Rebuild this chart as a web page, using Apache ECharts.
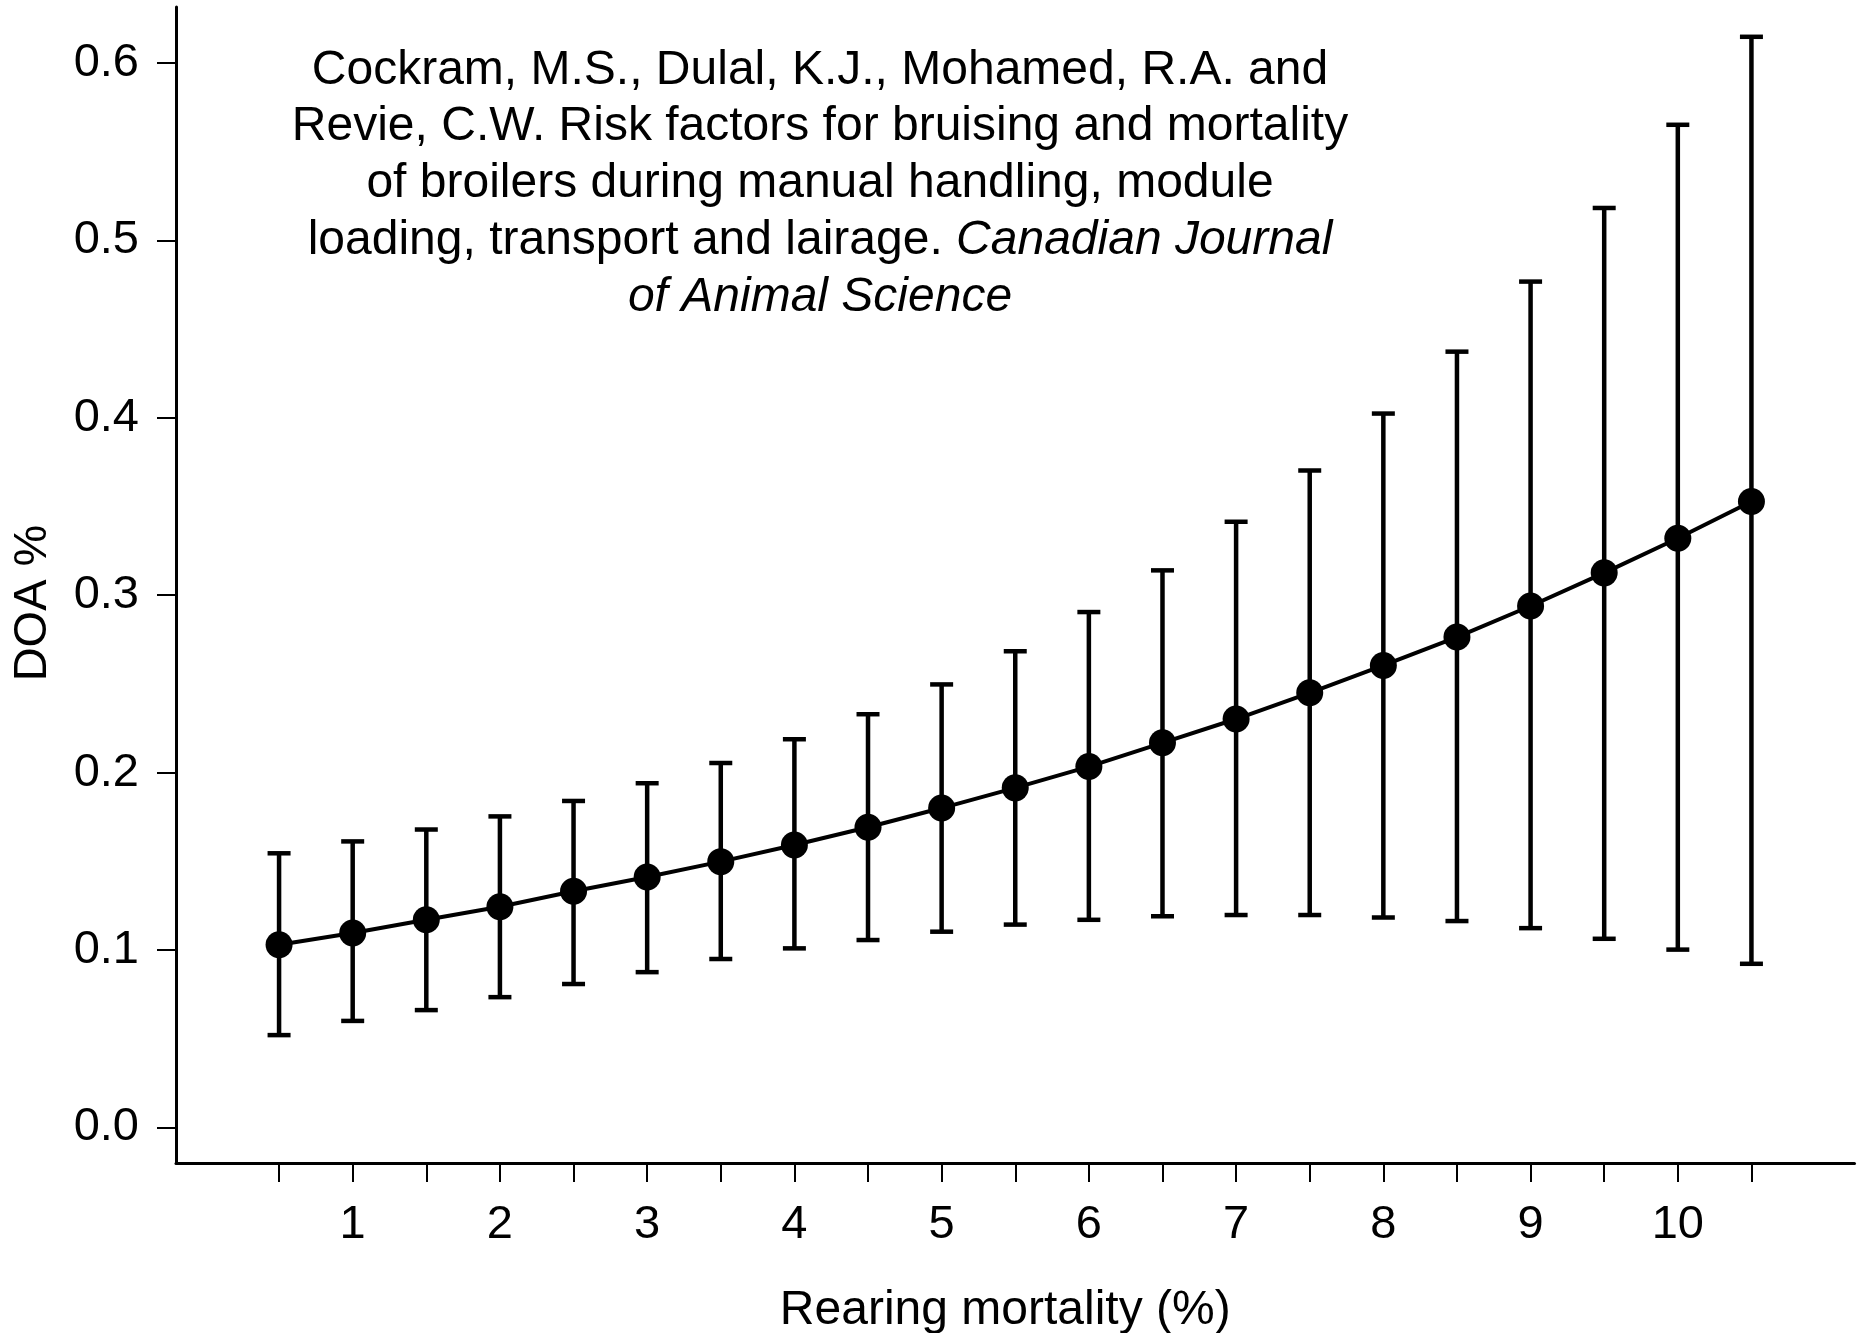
<!DOCTYPE html>
<html>
<head>
<meta charset="utf-8">
<title>DOA % vs rearing mortality</title>
<script src="https://cdn.jsdelivr.net/npm/echarts@6/dist/echarts.min.js"></script>
<style>
  html, body { margin: 0; padding: 0; background: #fff; }
  #chart { width: 1864px; height: 1333px; }
</style>
</head>
<body>
<div id="chart"></div>
<script>
// 饲养死亡率 (%)
const mortality = [0.5, 1, 1.5, 2, 2.5, 3, 3.5, 4, 4.5, 5, 5.5, 6, 6.5, 7, 7.5, 8, 8.5, 9, 9.5, 10, 10.5]
// DOA % 均值
const doaMean = [0.1029, 0.1096, 0.1170, 0.1244, 0.1331, 0.1411, 0.1498, 0.1592, 0.1692, 0.1800, 0.1914,
  0.2034, 0.2168, 0.2302, 0.2450, 0.2604, 0.2764, 0.2939, 0.3126, 0.3321, 0.3528]
// 误差线上端
const doaUpper = [0.1545, 0.1612, 0.1679, 0.1753, 0.1840, 0.1940, 0.2054, 0.2188, 0.2329, 0.2497, 0.2684,
  0.2905, 0.3140, 0.3414, 0.3703, 0.4024, 0.4373, 0.4768, 0.5183, 0.5652, 0.6148]
// 误差线下端
const doaLower = [0.0520, 0.0600, 0.0661, 0.0734, 0.0808, 0.0875, 0.0949, 0.1009, 0.1056, 0.1103, 0.1143,
  0.1170, 0.1190, 0.1197, 0.1197, 0.1183, 0.1163, 0.1123, 0.1063, 0.1002, 0.0922]

// 刻度
const xTickValues = mortality
const xLabelValues = [1, 2, 3, 4, 5, 6, 7, 8, 9, 10]
const yTickValues = [0, 0.1, 0.2, 0.3, 0.4, 0.5, 0.6]

const FONT = '"Liberation Sans", Arial, Helvetica, sans-serif'

const chart = echarts.init(document.getElementById('chart'))

const option = {
  backgroundColor: '#fff',
  animation: false,
  // 不让 v6 自动收缩网格
  grid: {left: 176, right: 9.5, top: 7, bottom: 170, containLabel: false, outerBoundsMode: 'none'},
  xAxis: {
    type: 'value',
    min: -0.2,
    max: 11.2,
    splitLine: {show: false},
    axisLine: {onZero: false, lineStyle: {color: '#000', width: 3}},
    axisTick: {customValues: xTickValues, length: 19, lineStyle: {color: '#000', width: 2}},
    axisLabel: {customValues: xLabelValues, margin: 39, color: '#000', fontSize: 47, fontFamily: FONT},
    name: 'Rearing mortality (%)',
    nameLocation: 'middle',
    nameGap: 124,
    nameTextStyle: {color: '#000', fontSize: 48, fontFamily: FONT, padding: [0, 20, 0, 0]},
  },
  yAxis: {
    type: 'value',
    min: -0.0201,
    max: 0.6316,
    splitLine: {show: false},
    axisLine: {show: true, onZero: false, lineStyle: {color: '#000', width: 3}},
    axisTick: {show: true, customValues: yTickValues, length: 19, lineStyle: {color: '#000', width: 2}},
    axisLabel: {
      customValues: yTickValues, margin: 37, color: '#000', fontSize: 47, fontFamily: FONT,
      formatter: v => v.toFixed(1),
    },
  },
  graphic: [
    {
      type: 'text',
      x: 33,
      y: 603,
      rotation: Math.PI / 2,
      style: {text: 'DOA %', fill: '#000', font: '47px ' + FONT, align: 'center', verticalAlign: 'middle'},
    },
    {
      type: 'text',
      x: 820,
      y: 42,
      style: {
        text: [
          '{n|Cockram, M.S., Dulal, K.J., Mohamed, R.A. and}',
          '{n|Revie, C.W. Risk factors for bruising and mortality}',
          '{n|of broilers during manual handling, module}',
          '{n|loading, transport and lairage. }{i|Canadian Journal}',
          '{i|of Animal Science}',
        ].join('\n'),
        align: 'center',
        verticalAlign: 'top',
        rich: {
          n: {fill: '#000', fontSize: 48, fontFamily: FONT, lineHeight: 56.8},
          i: {fill: '#000', fontSize: 48, fontFamily: FONT, fontStyle: 'italic', lineHeight: 56.8},
        },
      },
    },
  ],
  series: [
    {
      // 误差线
      type: 'custom',
      data: mortality.map((m, i) => [m, doaUpper[i], doaLower[i]]),
      encode: {x: 0, y: [1, 2]},
      renderItem: (params, api) => {
        const x = api.value(0)
        const top = api.coord([x, api.value(1)])
        const bot = api.coord([x, api.value(2)])
        const half = 11.5
        const style = {stroke: '#000', lineWidth: 4.5}
        return {
          type: 'group',
          children: [
            {type: 'line', shape: {x1: top[0], y1: top[1], x2: bot[0], y2: bot[1]}, style},
            {type: 'line', shape: {x1: top[0] - half, y1: top[1], x2: top[0] + half, y2: top[1]}, style},
            {type: 'line', shape: {x1: bot[0] - half, y1: bot[1], x2: bot[0] + half, y2: bot[1]}, style},
          ],
        }
      },
      z: 2,
    },
    {
      type: 'line',
      data: mortality.map((m, i) => [m, doaMean[i]]),
      symbol: 'circle',
      symbolSize: 27,
      itemStyle: {color: '#000'},
      lineStyle: {color: '#000', width: 4},
      z: 3,
    },
  ],
}

chart.setOption(option)
</script>
</body>
</html>
